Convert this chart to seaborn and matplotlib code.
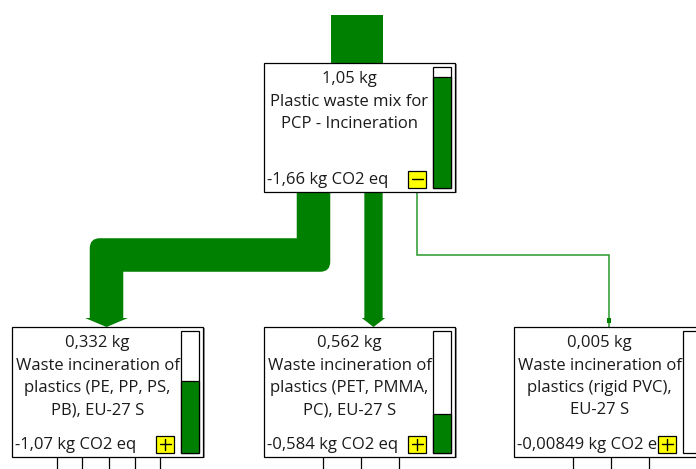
import numpy as np
import seaborn as sns
import matplotlib.pyplot as plt
from matplotlib.patches import Rectangle, PathPatch
from matplotlib.path import Path

# node data (first one is the parent process)
node_mass = [1.05, 0.332, 0.562, 0.005]
node_co2 = [-1.66, -1.07, -0.584, -0.00849]
node_name = [
    ["Plastic waste mix for", "PCP - Incineration"],
    ["Waste incineration of", "plastics (PE, PP, PS,", "PB), EU-27 S"],
    ["Waste incineration of", "plastics (PET, PMMA,", "PC), EU-27 S"],
    ["Waste incineration of", "plastics (rigid PVC),", "EU-27 S"],
]
bar_fill = [0.92, 0.59, 0.32, 0.0]
button_sign = ["-", "+", "+", "+"]

# layout (pixels, y down)
boxes = [(264, 63, 191, 129), (12, 327, 191, 130), (264, 327, 191, 130), (514, 327, 191, 130)]
flow_start_x = [313.5, 373.5, 417]
flow_end_x = [106.5, 373.5, 609]
route_y = 255
input_lines = [[57, 82, 109, 135, 160], [323, 361, 399], [573, 611, 649]]

GREEN = "#008000"
TXT = "#1a1a1a"
FS = 12
px_per_co2 = 52 / abs(node_co2[0])

sns.set_style("white")
plt.rcParams['font.family'] = ['Open Sans', 'DejaVu Sans']

fig = plt.figure(figsize=(6.96, 4.69), dpi=100)
ax = fig.add_axes([0, 0, 1, 1])
ax.set_xlim(0, 696)
ax.set_ylim(469, 0)
ax.axis('off')


def fmt(v):
    return f"{v:g}".replace('.', ',')


def flow_path(xs, xe, w, y0, y1, ry):
    hw = w / 2
    ah = max(2.0, 0.14 * w)
    tip = y1
    yb = y1 - 9
    r = min(10, hw)
    if abs(xs - xe) < 1:
        verts = [(xs - hw, y0), (xs - hw, yb), (xs - hw - ah, yb), (xs, tip),
                 (xs + hw + ah, yb), (xs + hw, yb), (xs + hw, y0), (xs - hw, y0)]
        codes = [Path.MOVETO] + [Path.LINETO] * 6 + [Path.CLOSEPOLY]
        return Path(verts, codes)
    verts = [(xs - hw, y0), (xs - hw, ry - hw),
             (xe - hw + r, ry - hw), (xe - hw, ry - hw), (xe - hw, ry - hw + r),
             (xe - hw, yb), (xe - hw - ah, yb), (xe, tip), (xe + hw + ah, yb), (xe + hw, yb),
             (xe + hw, ry + hw),
             (xs + hw - r, ry + hw), (xs + hw, ry + hw), (xs + hw, ry + hw - r),
             (xs + hw, y0), (xs - hw, y0)]
    codes = [Path.MOVETO, Path.LINETO,
             Path.LINETO, Path.CURVE3, Path.CURVE3,
             Path.LINETO, Path.LINETO, Path.LINETO, Path.LINETO, Path.LINETO,
             Path.LINETO,
             Path.LINETO, Path.CURVE3, Path.CURVE3,
             Path.LINETO, Path.CLOSEPOLY]
    return Path(verts, codes)


# incoming flow into the parent
bx, by, bw, bh = boxes[0]
w_in = abs(node_co2[0]) * px_per_co2
ax.add_patch(Rectangle((357 - w_in / 2, 15), w_in, by - 15, color=GREEN, lw=0, zorder=1))

# flows to children
parent_bottom = by + bh
for i in range(1, len(node_co2)):
    w = abs(node_co2[i]) * px_per_co2
    xs, xe = flow_start_x[i - 1], flow_end_x[i - 1]
    child_top = boxes[i][1]
    if w < 2:
        ax.plot([xs, xs, xe, xe], [parent_bottom, route_y, route_y, child_top],
                color="#2a9a2a", lw=1.1, solid_joinstyle='miter', zorder=1)
        ax.add_patch(Rectangle((xe - 2, child_top - 9), 4, 5, color=GREEN, lw=0, zorder=1))
    else:
        ax.add_patch(PathPatch(flow_path(xs, xe, w, parent_bottom, child_top, route_y),
                               facecolor=GREEN, edgecolor="none", zorder=1))

# input stubs below child boxes
for i, xs_list in enumerate(input_lines):
    b = boxes[i + 1]
    for x in xs_list:
        ax.plot([x, x], [b[1] + b[3], 469], color="black", lw=0.9, zorder=1)

# process boxes
for i, (x, y, w, h) in enumerate(boxes):
    ax.add_patch(Rectangle((x + 1.5, y + 1.5), w, h, facecolor="#9a9a9a", edgecolor="none", zorder=2))
    ax.add_patch(Rectangle((x, y), w, h, facecolor="white", edgecolor="black", lw=0.9, zorder=3))

    # share bar
    bar_x, bar_y0, bar_y1 = x + w - 22, y + 4, y + h - 4
    ax.add_patch(Rectangle((bar_x, bar_y0), 18, bar_y1 - bar_y0, facecolor="white",
                           edgecolor="black", lw=0.9, zorder=4))
    fh = (bar_y1 - bar_y0) * bar_fill[i]
    if fh > 0:
        ax.add_patch(Rectangle((bar_x, bar_y1 - fh), 18, fh, facecolor=GREEN,
                               edgecolor="black", lw=0.9, zorder=5))

    cx = (x + bar_x) / 2 + 1
    ax.text(cx, y + 16, fmt(node_mass[i]) + " kg", ha="center", va="center",
            fontsize=FS, color=TXT, zorder=6)
    for j, line in enumerate(node_name[i]):
        ax.text(cx, y + 16 + 22.5 * (j + 1), line, ha="center", va="center",
                fontsize=FS, color=TXT, zorder=6)
    ax.text(x + 3, y + h - 12, fmt(node_co2[i]) + " kg CO2 eq", ha="left", va="center",
            fontsize=FS, color=TXT, zorder=6)

    # expand / collapse button
    btx, bty = x + w - 47, y + h - 21
    ax.add_patch(Rectangle((btx, bty), 18, 17, facecolor="#ffff00", edgecolor="black",
                           lw=0.9, zorder=7))
    ax.plot([btx + 3.5, btx + 14.5], [bty + 8.5, bty + 8.5], color="black", lw=1.0, zorder=8)
    if button_sign[i] == "+":
        ax.plot([btx + 9, btx + 9], [bty + 3, bty + 14], color="black", lw=1.0, zorder=8)

fig.savefig("out.png", dpi=100)
